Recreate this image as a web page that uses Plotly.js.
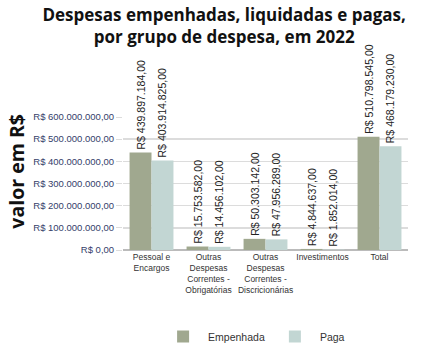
<!DOCTYPE html>
<html>
<head>
<meta charset="utf-8">
<script src="https://cdn.plot.ly/plotly-3.0.1.min.js"></script>
<style>html,body{margin:0;padding:0;background:#fff;}#chart{width:423px;height:351px;}</style>
</head>
<body>
<div id="chart"></div>
<script>
var categories = ['Pessoal e<br>Encargos', 'Outras<br>Despesas<br>Correntes -<br>Obrigatórias', 'Outras<br>Despesas<br>Correntes -<br>Discricionárias', 'Investimentos', 'Total'];
var empenhada = [439897184.00, 15753582.00, 50303142.00, 4844637.00, 510798545.00];
var paga = [403914825.00, 14456102.00, 47956289.00, 1852014.00, 468179230.00];
var empenhadaLabels = ['R$ 439.897.184,00', 'R$ 15.753.582,00', 'R$ 50.303.142,00', 'R$ 4.844.637,00', 'R$ 510.798.545,00'];
var pagaLabels = ['R$ 403.914.825,00', 'R$ 14.456.102,00', 'R$ 47.956.289,00', 'R$ 1.852.014,00', 'R$ 468.179.230,00'];
var tickValues = [0, 100000000, 200000000, 300000000, 400000000, 500000000, 600000000];
var tickLabels = ['R$ 0,00', 'R$ 100.000.000,00', 'R$ 200.000.000,00', 'R$ 300.000.000,00', 'R$ 400.000.000,00', 'R$ 500.000.000,00', 'R$ 600.000.000,00'];

var narrow = '"Liberation Sans", Arial, sans-serif';

var traces = [
  {
    type: 'bar', name: 'Empenhada', x: categories, y: empenhada,
    text: empenhadaLabels, textposition: 'outside', textangle: -90,
    textfont: {family: narrow, size: 10.5, color: '#222'},
    marker: {color: '#a0a88f'}, cliponaxis: false, constraintext: 'none'
  },
  {
    type: 'bar', name: 'Paga', x: categories, y: paga,
    text: pagaLabels, textposition: 'outside', textangle: -90,
    textfont: {family: narrow, size: 10.5, color: '#222'},
    marker: {color: '#c2d6d3'}, cliponaxis: false, constraintext: 'none'
  }
];

var layout = {
  width: 423, height: 351,
  margin: {l: 123, r: 15, t: 117, b: 101, autoexpand: false},
  paper_bgcolor: '#fff', plot_bgcolor: '#fff',
  title: {
    text: '<b>Despesas empenhadas, liquidadas e pagas,<br>por grupo de despesa, em 2022</b>',
    font: {family: '"Open Sans", sans-serif', size: 17, color: '#111'},
    x: 0.53, xanchor: 'center', yref: 'container', y: 0.94, yanchor: 'bottom'
  },
  barmode: 'group', bargap: 0.23, bargroupgap: 0,
  xaxis: {
    tickfont: {family: narrow, size: 8.5, color: '#333'},
    tickangle: 0,
    showgrid: false, showline: false, ticks: '', zeroline: false
  },
  yaxis: {
    range: [0, 600000000], tickvals: tickValues, ticktext: tickLabels,
    tickfont: {family: narrow, size: 9.5, color: '#34406a'},
    showgrid: true, gridcolor: '#dcdcdc', gridwidth: 1.5,
    zeroline: true, zerolinecolor: '#bbbbbb', zerolinewidth: 1.5,
    ticks: 'outside', ticklen: 6, tickcolor: '#dcdcdc'
  },
  annotations: [{
    text: '<b>valor em R$</b>', textangle: -90, showarrow: false,
    xref: 'paper', yref: 'paper', x: -0.375, y: 0.59, xanchor: 'center', yanchor: 'middle',
    font: {family: '"Open Sans", sans-serif', size: 19.5, color: '#111'}
  }],
  showlegend: true,
  legend: {
    orientation: 'h', x: 0.46, xanchor: 'center', yref: 'container', y: 0.0, yanchor: 'bottom',
    font: {family: narrow, size: 10.5, color: '#333'},
    itemwidth: 40, traceorder: 'normal'
  }
};

Plotly.newPlot('chart', traces, layout, {displayModeBar: false, staticPlot: true});
</script>
</body>
</html>
